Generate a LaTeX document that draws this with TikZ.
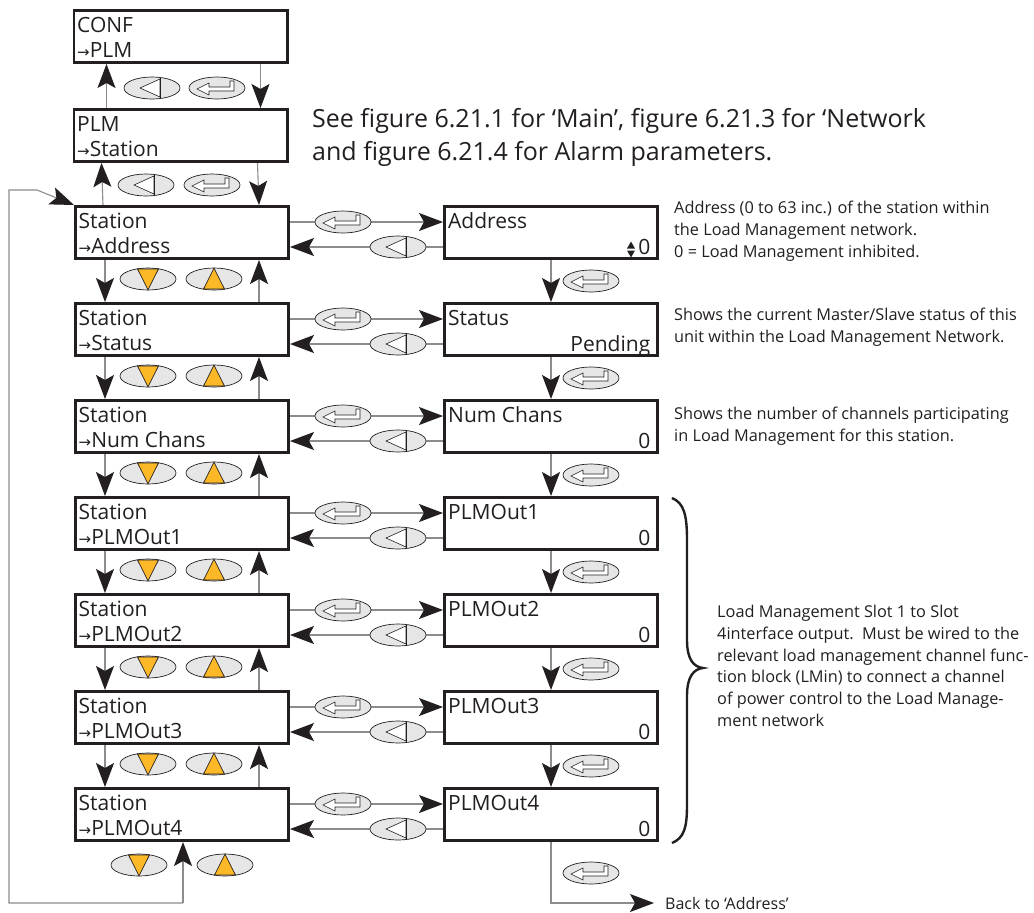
\documentclass[tikz,border=0pt]{standalone}
\usepackage{fontspec}
\setmainfont{Open Sans}
\newfontfamily\arrfont{DejaVu Sans}
\usetikzlibrary{arrows.meta,calc}
\definecolor{ink}{HTML}{231F20}
\definecolor{wirec}{HTML}{8C8C8C}
\definecolor{btnfill}{HTML}{E6E6E6}
\definecolor{amber}{HTML}{FDB827}
\newcommand{\sarr}{{\arrfont\fontsize{15}{15}\selectfont →}}
\tikzset{
  panel/.style={draw=ink, line width=2.6pt, minimum width=213.4pt, minimum height=52.4pt, inner sep=0pt, fill=white},
  wire/.style={draw=wirec, line width=1.1pt},
  arr/.style={wire, -{Stealth[length=24pt,width=18pt,inset=5pt,color=ink]}},
  btn/.style={draw=ink, fill=btnfill, line width=0.7pt},
  icon/.style={draw=ink, fill=white, line width=0.6pt, line join=miter},
  tri/.style={draw=ink, fill=amber, line width=0.7pt, line join=miter},
  ltxt/.style={font=\fontsize{21}{21}\selectfont, inner sep=0pt, anchor=base west, text=ink},
  rtxt/.style={font=\fontsize{21}{21}\selectfont, inner sep=0pt, anchor=base east, text=ink},
  desc/.style={font=\fontsize{16.3}{22}\selectfont, inner sep=0pt, anchor=north west, align=left, text=ink},
  enterbtn/.pic={
    \draw[btn] (0,0) ellipse (28 and 11);
    \draw[icon] (-20,1) -- (-8,-5) -- (-8,-1) -- (13,-1) -- (13,-7) -- (17,-7) -- (17,3) -- (-8,3) -- (-8,7) -- cycle;
  },
  backbtn/.pic={
    \draw[btn] (0,0) ellipse (28 and 11);
    \draw[icon] (-12,0) -- (8,-9) -- (8,9) -- cycle;
    \draw[ink, line width=0.7pt] (8,-10.4) -- (8,10.4);
  },
  downbtn/.pic={
    \draw[btn] (0,0) ellipse (28 and 11);
    \draw[tri] (-10.5,-10) -- (10.5,-10) -- (0,10.8) -- cycle;
  },
  upbtn/.pic={
    \draw[btn] (0,0) ellipse (28 and 11);
    \draw[tri] (-10.5,10) -- (10.5,10) -- (0,-10.8) -- cycle;
  }
}
\begin{document}
\begin{tikzpicture}[x=1pt,y=-1pt]
\useasboundingbox[fill=white] (0,0) rectangle (1034,913);

% top panels
\node[panel] (C) at (180.5,36.5) {};
\node[panel] (P) at (180.5,135.5) {};
\node[ltxt] (Ct1) at ($(C.north west)+(4.5,23)$) {CONF};
\node[ltxt] (Ct2) at ($(C.north west)+(4.5,48)$) {\sarr PLM};
\node[ltxt] (Pt1) at ($(P.north west)+(4.5,23)$) {PLM};
\node[ltxt] (Pt2) at ($(P.north west)+(4.5,48)$) {\sarr Station};

% header text
\node[font=\fontsize{25}{33}\selectfont, inner sep=0pt, anchor=north west, align=left, text=ink] (hdr) at (312,108)
  {See figure 6.21.1 for ‘Main’, figure 6.21.3 for ‘Network\\and figure 6.21.4 for Alarm parameters.};

% station rows
\foreach \i/\lab/\rt/\rv in {0/Address/Address/,1/Status/Status/Pending,2/Num Chans/Num Chans/0,3/PLMOut1/PLMOut1/0,4/PLMOut2/PLMOut2/0,5/PLMOut3/PLMOut3/0,6/PLMOut4/PLMOut4/0}{
  \pgfmathsetmacro{\T}{205+97*\i}
  \node[panel] (L\i) at (182,\T+27.5) {};
  \node[panel] (R\i) at (551,\T+27.5) {};
  \node[ltxt] (Lt\i) at ($(L\i.north west)+(4.5,23)$) {Station};
  \node[ltxt] (Lb\i) at ($(L\i.north west)+(4.5,48)$) {\sarr\lab};
  \node[ltxt] (Rt\i) at ($(R\i.north west)+(5,23)$) {\rt};
  \node[rtxt] (Rv\i) at ($(R\i.north east)+(-8.5,49)$) {\rv};
}
\node[rtxt] (Rv0) at ($(R0.north east)+(-8.5,49)$) {0};
\fill[ink] (627,248.5) -- (635,248.5) -- (631,241.5) -- cycle;
\fill[ink] (627,250.5) -- (635,250.5) -- (631,257.5) -- cycle;

% top connectors
\draw[arr] ($(P.north)+(-74,0)$) -- ($(C.south)+(-74,0)$);
\draw[arr] ($(C.south)+(80,0)$) -- ($(P.north)+(80,0)$);
\draw[arr] ($(L0.north)+(-79,0)$) -- ($(P.south)+(-79,0)$);
\draw[arr] ($(P.south)+(77,0)$) -- ($(L0.north)+(77,0)$);
\pic at (152,88) {backbtn};
\pic at (217,88) {enterbtn};
\pic at (146,185) {backbtn};
\pic at (212,185) {enterbtn};

% vertical connectors between rows
\foreach \i in {0,...,5}{
  \pgfmathtruncatemacro{\j}{\i+1}
  \pgfmathsetmacro{\T}{205+97*\i}
  \draw[arr] ($(L\i.south)+(-77,0)$) -- ($(L\j.north)+(-77,0)$);
  \draw[arr] ($(L\j.north)+(77,0)$) -- ($(L\i.south)+(77,0)$);
  \draw[arr] (R\i.south) -- (R\j.north);
  \pic at (148,\T+74) {downbtn};
  \pic at (214,\T+74) {upbtn};
  \pic at (591,\T+76) {enterbtn};
}

% horizontal connectors
\foreach \i in {0,...,6}{
  \pgfmathsetmacro{\T}{205+97*\i}
  \draw[arr] ($(L\i.east)+(0,-10.5)$) -- ($(R\i.west)+(0,-10.5)$);
  \draw[arr] ($(R\i.west)+(0,14.5)$) -- ($(L\i.east)+(0,14.5)$);
  \pic at (343,\T+17) {enterbtn};
  \pic at (398,\T+42) {backbtn};
}

% bottom loop
\coordinate (ub) at (183,903);
\coordinate (lb) at (9,903);
\coordinate (lt) at (9,190);
\coordinate (lk) at (37,190);
\draw[arr] (ub) -- (ub |- L6.south);
\draw[arr] (ub) -- (lb) -- (lt) -- (lk) -- (L0.north west);
\pic at (139,865) {downbtn};
\pic at (225,865) {upbtn};

% back to address
\coordinate (rb) at (551,903);
\coordinate (bk) at (654,903);
\draw[arr] (R6.south) -- (rb) -- (bk);
\pic at (591,873) {enterbtn};
\node[font=\fontsize{16}{16}\selectfont, inner sep=0pt, anchor=base west, text=ink] (back) at (665,909) {Back to ‘Address’};

% descriptions
\node[desc] (d0) at (674,200.5) {Address (0 to 63 inc.) of the station within\\the Load Management network.\\0 = Load Management inhibited.};
\node[desc] (d1) at (674,307.5) {Shows the current Master/Slave status of this\\unit within the Load Management Network.};
\node[desc] (d2) at (674,406.5) {Shows the number of channels participating\\in Load Management for this station.};
\node[desc, font=\fontsize{16.3}{21.8}\selectfont] (d3) at (717,605) {Load Management Slot 1 to Slot\\4interface output.\ \ Must be wired to the\\relevant load management channel func-\\tion block (LMin) to connect a channel\\of power control to the Load Manage-\\ment network};

% brace
\draw[ink, line width=2.4pt] (672,498) .. controls (684,503) and (687,515) .. (687,540) -- (687,640)
  .. controls (687,660) and (694,667) .. (703,668)
  .. controls (694,669) and (687,676) .. (687,696) -- (687,805)
  .. controls (687,828) and (684,838) .. (672,843);
\end{tikzpicture}
\end{document}
